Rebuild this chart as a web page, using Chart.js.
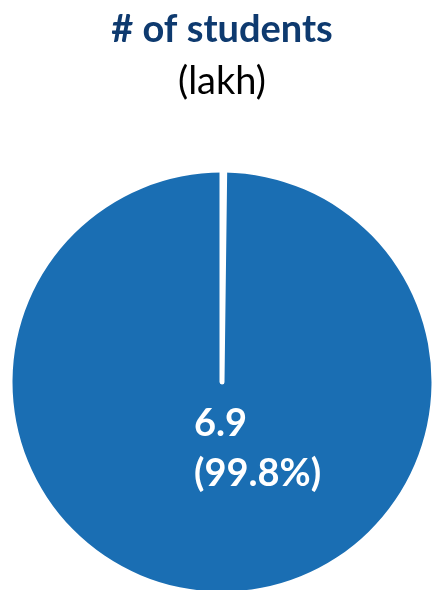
<!DOCTYPE html>
<html>
<head>
<meta charset="utf-8">
<script src="https://cdn.jsdelivr.net/npm/chart.js@4.4.0/dist/chart.umd.min.js"></script>
<style>
  html, body { margin: 0; padding: 0; background: #fff; overflow: hidden; }
  #wrap { width: 434px; height: 600px; }
</style>
</head>
<body>
<div id="wrap"><canvas id="studentsChart" width="434" height="600"></canvas></div>
<script>
'use strict';

// data (lakh students)
var categories = ['Students', 'Others'];
var studentValues = [6.9, 0.014];
var titleText = '# of students';
var unitText = '(lakh)';

var total = studentValues.reduce(function (a, b) { return a + b; }, 0);
// start angle so the thin slice sits just right of 12 o'clock
var startAngle = 360 * studentValues[1] / total;

// white text in the middle of the big slice
var sliceLabel = {
    id: 'sliceLabel',
    afterDatasetsDraw: function (chart) {
        var arc = chart.getDatasetMeta(0).data[0];
        var pct = (studentValues[0] / total * 100).toFixed(1);
        var ctx = chart.ctx;
        ctx.save();
        ctx.fillStyle = '#ffffff';
        ctx.font = 'bold 38px Lato';
        ctx.textAlign = 'left';
        ctx.textBaseline = 'alphabetic';
        ctx.fillText(studentValues[0].toString(), arc.x - 28, arc.y + 54);
        ctx.fillText('(' + pct + '%)', arc.x - 28, arc.y + 104);
        ctx.restore();
    }
};

var studentsChart = new Chart(document.getElementById('studentsChart'), {
    type: 'pie',
    data: {
        labels: categories,
        datasets: [{
            data: studentValues,
            backgroundColor: ['#1A6EB3', '#ffffff'],
            borderColor: ['#ffffff', '#ffffff'],
            borderWidth: [0, 5],
            borderJoinStyle: 'round'
        }]
    },
    options: {
        responsive: false,
        animation: false,
        rotation: startAngle,
        layout: { padding: { left: 10, right: 0, top: 0, bottom: 5 } },
        plugins: {
            legend: { display: false },
            tooltip: { enabled: false },
            title: {
                display: true,
                text: titleText,
                color: '#0E3A6F',
                font: { family: 'Lato', size: 38, weight: 'bold', lineHeight: 1.2 },
                padding: { top: 7, bottom: 6 }
            },
            subtitle: {
                display: true,
                text: unitText,
                color: '#000000',
                font: { family: 'Lato', size: 38, weight: 'normal', lineHeight: 1.2 },
                padding: { top: 0, bottom: 65 }
            }
        }
    },
    plugins: [sliceLabel]
});
</script>
</body>
</html>
